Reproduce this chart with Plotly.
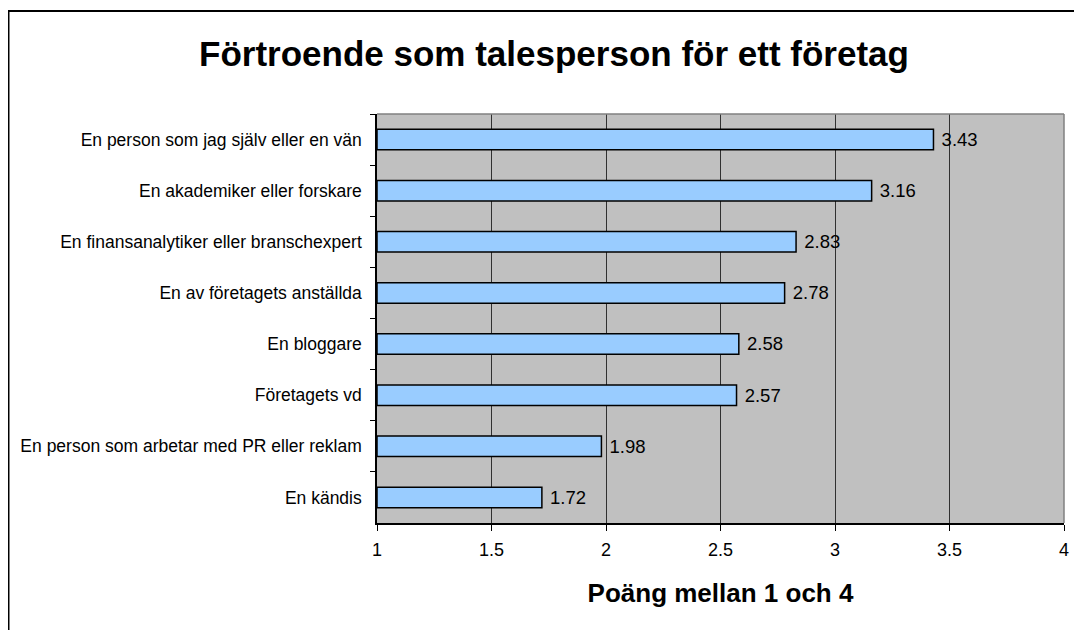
import plotly.graph_objects as go

categories = [
    "En person som jag själv eller en vän",
    "En akademiker eller forskare",
    "En finansanalytiker eller branschexpert",
    "En av företagets anställda",
    "En bloggare",
    "Företagets vd",
    "En person som arbetar med PR eller reklam",
    "En kändis",
]
scores = [3.43, 3.16, 2.83, 2.78, 2.58, 2.57, 1.98, 1.72]
x_ticks = [1, 1.5, 2, 2.5, 3, 3.5, 4]
x_tick_labels = ["1", "1.5", "2", "2.5", "3", "3.5", "4"]

FONT = "Liberation Sans, Arial, sans-serif"

# bars start at 1 on the score axis, so the drawn length is score - 1
fig = go.Figure(go.Bar(
    x=[v - 1 for v in scores], y=categories, orientation="h", base=1,
    width=0.4,
    marker=dict(color="#99CCFF", line=dict(color="black", width=1.5)),
    text=[f"\u00a0{v:.2f}" for v in scores], textposition="outside",
    textfont=dict(family=FONT, size=19, color="black"),
    cliponaxis=False, hoverinfo="skip",
))

# the page body adds an 8px offset, so pixel positions below are shifted by 8
fig.update_layout(
    width=1082, height=630,
    margin=dict(l=369, r=26, t=106, b=115),
    paper_bgcolor="white", plot_bgcolor="#C0C0C0",
    font=dict(family=FONT, color="black"),
    showlegend=False,
    title=dict(text="<b>Förtroende som talesperson för ett företag</b>",
               x=0.5046, xanchor="center", y=0.927, yanchor="middle",
               yref="container", font=dict(size=35, family=FONT)),
    xaxis=dict(range=[1, 4], tickvals=x_ticks, ticktext=x_tick_labels,
               showgrid=True, gridcolor="#303030", gridwidth=1,
               showline=True, linecolor="black", linewidth=1.5,
               ticks="outside", ticklen=6, tickcolor="black",
               tickfont=dict(size=18), ticklabelstandoff=4,
               zeroline=False,
               title=dict(text="<b>Poäng mellan 1 och 4</b>", font=dict(size=26),
                          standoff=24)),
    yaxis=dict(autorange="reversed", showline=True, linecolor="black", linewidth=1.5,
               ticks="outside", ticklen=5, tickcolor="black", tickson="boundaries",
               tickfont=dict(size=17.5), ticklabelstandoff=10, showgrid=False),
    shapes=[
        # outer chart frame
        dict(type="rect", xref="paper", yref="paper", x0=-0.5364, x1=2, y0=-1, y1=1.2518,
             line=dict(color="black", width=2), layer="below"),
        # grey plot border on top and right
        dict(type="line", xref="paper", yref="paper", x0=0, x1=1, y0=1, y1=1,
             line=dict(color="#808080", width=1.5)),
        dict(type="line", xref="paper", yref="paper", x0=1, x1=1, y0=0, y1=1,
             line=dict(color="#808080", width=1.5)),
    ],
)

fig.write_html("out.html")
